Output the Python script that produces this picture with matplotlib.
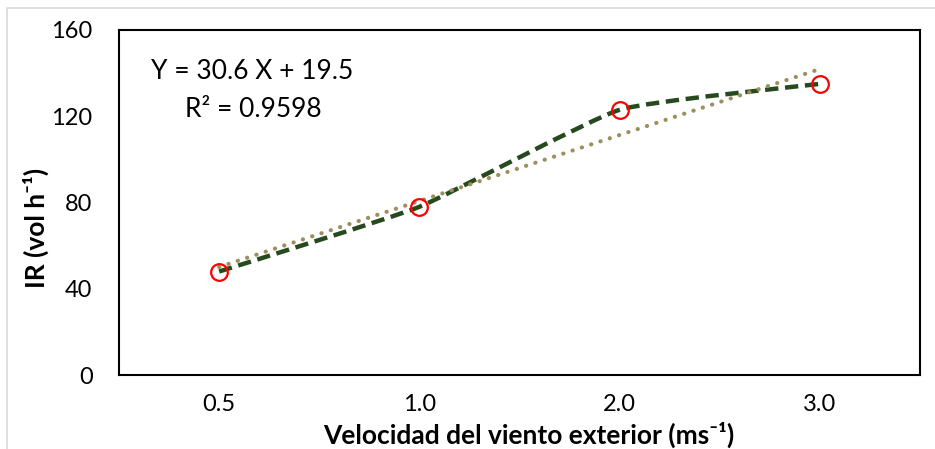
import numpy as np
import matplotlib.pyplot as plt
from matplotlib.path import Path
from matplotlib.patches import PathPatch, Rectangle

# datos
categorias = ['0.5', '1.0', '2.0', '3.0']
ir_valores = [48, 78, 123, 135]
pendiente = 30.6
intercepto = 19.5
r2 = 0.9598
y_ticks = [0, 40, 80, 120, 160]

plt.rcParams['font.family'] = ['Lato', 'DejaVu Sans']

x = np.arange(len(categorias))
# linea de tendencia (X = numero de categoria, como en Excel)
tendencia = pendiente * (x + 1) + intercepto

fig = plt.figure(figsize=(9.35, 4.49), dpi=100)
ax = fig.add_axes([119 / 935, 1 - 375 / 449, 801 / 935, 345 / 449])

# borde gris exterior del grafico
fig.patches.append(Rectangle((7 / 935, -0.05), 1.1, 1 - 8 / 449 + 0.05, transform=fig.transFigure,
                             fill=False, edgecolor='#D9D9D9', lw=1.2))

# linea suavizada (bezier, tension baja)
tension = 14
pts = list(zip(x, ir_valores))
verts = [pts[0]]
codes = [Path.MOVETO]
for i in range(len(pts) - 1):
    p0 = pts[i - 1] if i > 0 else pts[i]
    p1 = pts[i]
    p2 = pts[i + 1]
    p3 = pts[i + 2] if i + 2 < len(pts) else pts[i + 1]
    c1 = (p1[0] + (p2[0] - p0[0]) / tension, p1[1] + (p2[1] - p0[1]) / tension)
    c2 = (p2[0] - (p3[0] - p1[0]) / tension, p2[1] - (p3[1] - p1[1]) / tension)
    verts += [c1, c2, p2]
    codes += [Path.CURVE4] * 3
suave = PathPatch(Path(verts, codes), fill=False, edgecolor='#264A1E', lw=3.2,
                  linestyle=(0, (3, 1.5)), capstyle='butt', joinstyle='round', zorder=2)
ax.add_patch(suave)

ax.plot(x, tendencia, color='#9C8F5E', lw=3, linestyle=(0, (0.05, 2.3)),
        dash_capstyle='round', zorder=3)

ax.plot(x, ir_valores, linestyle='none', marker='o', markersize=12, markerfacecolor='none',
        markeredgecolor='#FF0000', markeredgewidth=1.6, zorder=4)

ax.set_xlim(-0.5, len(categorias) - 0.5)
ax.set_ylim(0, 160)
ax.set_xticks(x)
ax.set_xticklabels(categorias)
ax.set_yticks(y_ticks)
ax.tick_params(length=0, labelsize=17)
ax.tick_params(axis='y', pad=19)
ax.tick_params(axis='x', pad=14)
for s in ax.spines.values():
    s.set_linewidth(1.5)
    s.set_color('black')

ax.text(0.04, 0.88, 'Y = 30.6 X + 19.5', transform=ax.transAxes, fontsize=19, va='center')
ax.text(0.083, 0.77, 'R² = 0.9598', transform=ax.transAxes, fontsize=19, va='center')

fig.text(36 / 935, 1 - 228 / 449, 'IR (vol h⁻¹)', rotation=90, ha='center', va='center',
         fontsize=19, fontweight='bold')
fig.text(529 / 935, 1 - 435 / 449, 'Velocidad del viento exterior (ms⁻¹)', ha='center',
         va='center', fontsize=19, fontweight='bold')

fig.savefig('out.png', dpi=100)
